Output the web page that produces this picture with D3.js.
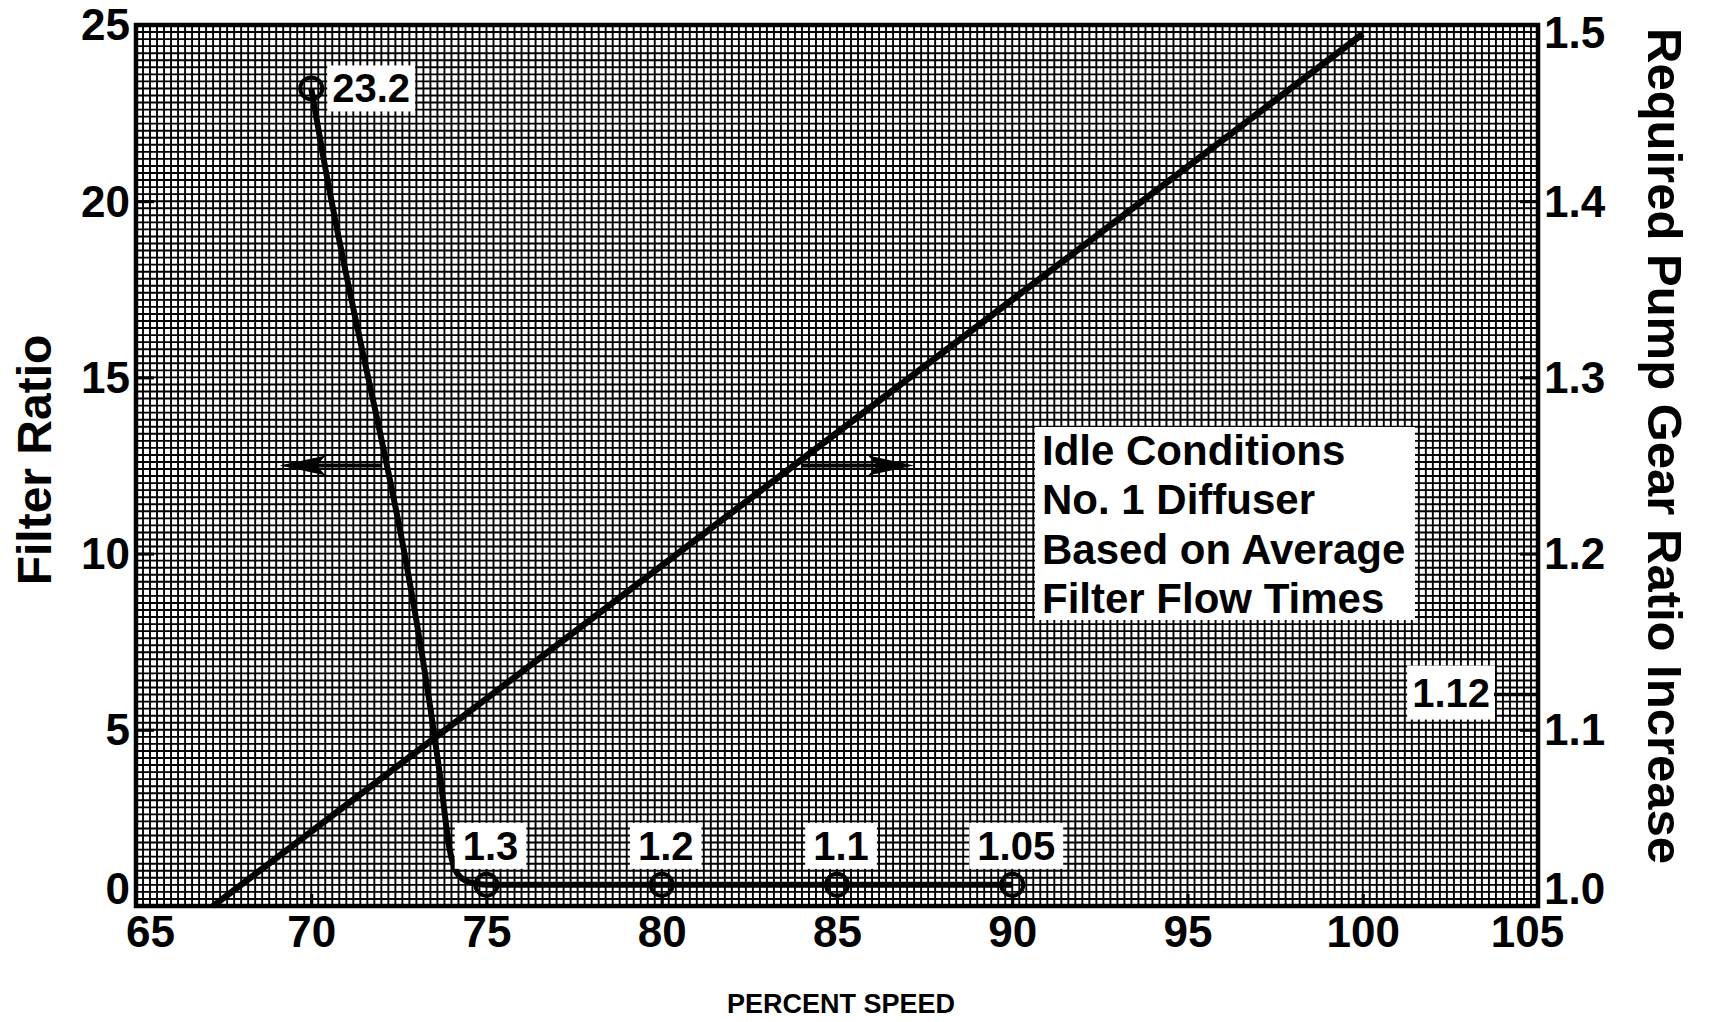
<!DOCTYPE html>
<html>
<head>
<meta charset="utf-8">
<script src="https://cdn.jsdelivr.net/npm/d3@7"></script>
<style>
  body { margin: 0; background: #fff; }
  text { font-family: "Liberation Sans", Arial, sans-serif; font-weight: bold; fill: #000; }
</style>
</head>
<body>
<div id="chart"></div>
<script>
var speedTicks = [65, 70, 75, 80, 85, 90, 95, 100, 105];
var filterTicks = [0, 5, 10, 15, 20, 25];
var gearTicks = [1.0, 1.1, 1.2, 1.3, 1.4, 1.5];

var filterSpeed = [70, 70.3, 73.7, 73.95, 74.15, 74.5, 75, 80, 85, 90];
var filterRatio = [23.2, 21.5, 3.5, 1.6, 0.95, 0.68, 0.6, 0.6, 0.6, 0.6];

var pointSpeed = [70, 75, 80, 85, 90];
var pointRatio = [23.2, 0.6, 0.6, 0.6, 0.6];
var pointLabels = ["23.2", "1.3", "1.2", "1.1", "1.05"];

var gearSpeed = [67.2, 100];
var gearRatio = [1.0, 1.495];

var arrowY = [12.5, 12.5];
var arrowFrom = [72, 84];
var arrowTo = [69.1, 87.2];

var calloutGear = 1.12;
var noteLines = ["Idle Conditions", "No. 1 Diffuser", "Based on Average", "Filter Flow Times"];

var width = 1710, height = 1022;
var margin = {top: 25, right: 172, bottom: 116, left: 136};

var svg = d3.select("#chart").append("svg")
    .attr("width", width)
    .attr("height", height);

var x = d3.scaleLinear().domain([65, 105]).range([margin.left, width - margin.right]),
    y = d3.scaleLinear().domain([0, 25]).range([height - margin.bottom, margin.top]),
    y2 = d3.scaleLinear().domain([1.0, 1.5]).range([height - margin.bottom, margin.top]);

// graph paper, 5 divisions per unit
var grid = svg.append("g").attr("stroke", "#000").attr("stroke-width", 1.9);
grid.selectAll(".gx").data(d3.range(0, 201)).enter().append("line")
    .attr("x1", function(i) { return x(65 + i * 0.2); })
    .attr("x2", function(i) { return x(65 + i * 0.2); })
    .attr("y1", y(0)).attr("y2", y(25));
grid.selectAll(".gy").data(d3.range(0, 126)).enter().append("line")
    .attr("y1", function(i) { return y(i * 0.2); })
    .attr("y2", function(i) { return y(i * 0.2); })
    .attr("x1", x(65)).attr("x2", x(105));

svg.append("rect")
    .attr("x", x(65)).attr("y", y(25))
    .attr("width", x(105) - x(65)).attr("height", y(0) - y(25))
    .attr("fill", "none").attr("stroke", "#000").attr("stroke-width", 4.5);

var xAxis = d3.axisBottom(x).tickValues(speedTicks).tickSizeInner(-12).tickSizeOuter(0).tickPadding(10),
    yAxis = d3.axisLeft(y).tickValues(filterTicks).tickSizeInner(-18).tickSizeOuter(0).tickPadding(6),
    yAxis2 = d3.axisRight(y2).tickValues(gearTicks).tickSizeInner(-18).tickSizeOuter(0).tickPadding(6)
        .tickFormat(d3.format(".1f"));

function styleAxis(g) {
    g.select(".domain").remove();
    g.selectAll(".tick line").attr("stroke", "#000").attr("stroke-width", 3);
    g.selectAll(".tick text").attr("font-size", 44).attr("fill", "#000")
        .attr("font-family", null);
}

svg.append("g").attr("transform", "translate(0," + y(0) + ")").call(xAxis).call(styleAxis)
    .selectAll(".tick text")
    .attr("dx", function(d) { return d === 65 ? 14 : d === 105 ? -11 : 0; });

svg.append("g").attr("transform", "translate(" + x(65) + ",0)").call(yAxis).call(styleAxis)
    .selectAll(".tick text")
    .attr("dy", function(d) { return d === 0 ? "-0.05em" : "0.34em"; });

svg.append("g").attr("transform", "translate(" + x(105) + ",0)").call(yAxis2).call(styleAxis)
    .selectAll(".tick text")
    .attr("dy", function(d) { return d === 1.0 ? "-0.05em" : d === 1.5 ? "0.52em" : "0.34em"; });

// gear ratio line
svg.append("path")
    .datum(d3.zip(gearSpeed, gearRatio))
    .attr("fill", "none").attr("stroke", "#000").attr("stroke-width", 6.5)
    .attr("d", d3.line().x(function(d) { return x(d[0]); }).y(function(d) { return y2(d[1]); }));

// filter ratio curve
svg.append("path")
    .datum(d3.zip(filterSpeed, filterRatio))
    .attr("fill", "none").attr("stroke", "#000").attr("stroke-width", 6)
    .attr("stroke-linejoin", "round")
    .attr("d", d3.line().curve(d3.curveMonotoneX)
        .x(function(d) { return x(d[0]); }).y(function(d) { return y(d[1]); }));

svg.selectAll(".pt").data(d3.zip(pointSpeed, pointRatio)).enter().append("circle")
    .attr("cx", function(d) { return x(d[0]); })
    .attr("cy", function(d) { return y(d[1]); })
    .attr("r", 11)
    .attr("fill", "none").attr("stroke", "#000").attr("stroke-width", 4);

function boxedText(g, str, tx, ty, anchor, size, padX, padY) {
    var t = g.append("text").attr("x", tx).attr("y", ty)
        .attr("text-anchor", anchor).attr("font-size", size).text(str);
    var b = t.node().getBBox();
    g.insert("rect", "text")
        .attr("x", b.x - padX).attr("y", b.y - padY + 3)
        .attr("width", b.width + 2 * padX).attr("height", b.height + 2 * padY - 6)
        .attr("fill", "#fff");
}

pointLabels.forEach(function(lab, i) {
    var g = svg.append("g");
    if (i === 0) {
        boxedText(g, lab, x(pointSpeed[i]) + 21, y(pointRatio[i]) + 14, "start", 40, 5, 4);
    } else {
        boxedText(g, lab, x(pointSpeed[i]) + 4, y(pointRatio[i]) - 25, "middle", 40, 8, 4);
    }
});

// direction arrows
arrowY.forEach(function(v, i) {
    var x0 = x(arrowFrom[i]), x1 = x(arrowTo[i]), yy = y(v);
    var dir = x1 < x0 ? -1 : 1;
    svg.append("line")
        .attr("x1", x0).attr("x2", x1 - dir * 30).attr("y1", yy).attr("y2", yy)
        .attr("stroke", "#000").attr("stroke-width", 4);
    svg.append("path")
        .attr("d", "M" + x1 + "," + yy +
            "L" + (x1 - dir * 46) + "," + (yy - 10) +
            "L" + (x1 - dir * 37) + "," + yy +
            "L" + (x1 - dir * 46) + "," + (yy + 10) + "Z")
        .attr("fill", "#000");
});

// 1.12 callout
var cg = svg.append("g");
svg.append("line")
    .attr("x1", x(105) - 44).attr("x2", x(105))
    .attr("y1", y2(calloutGear)).attr("y2", y2(calloutGear))
    .attr("stroke", "#000").attr("stroke-width", 3.5);
boxedText(cg, "1.12", x(105) - 48, y2(calloutGear) + 12, "end", 40, 5, 8);

// note box
var note = svg.append("g");
note.append("rect")
    .attr("x", 1035).attr("y", 427).attr("width", 380).attr("height", 193)
    .attr("fill", "#fff");
note.selectAll("text").data(noteLines).enter().append("text")
    .attr("x", 1042)
    .attr("y", function(d, i) { return 465 + i * 49.3; })
    .attr("font-size", 42)
    .text(function(d) { return d; });

// axis titles
svg.append("text")
    .attr("transform", "translate(51," + 460 + ") rotate(-90)")
    .attr("text-anchor", "middle").attr("font-size", 48)
    .text("Filter Ratio");

svg.append("text")
    .attr("transform", "translate(1648," + 446 + ") rotate(90)")
    .attr("text-anchor", "middle").attr("font-size", 49)
    .text("Required Pump Gear Ratio Increase");

svg.append("text")
    .attr("x", 841).attr("y", 1013)
    .attr("text-anchor", "middle").attr("font-size", 27)
    .text("PERCENT SPEED");
</script>
</body>
</html>
